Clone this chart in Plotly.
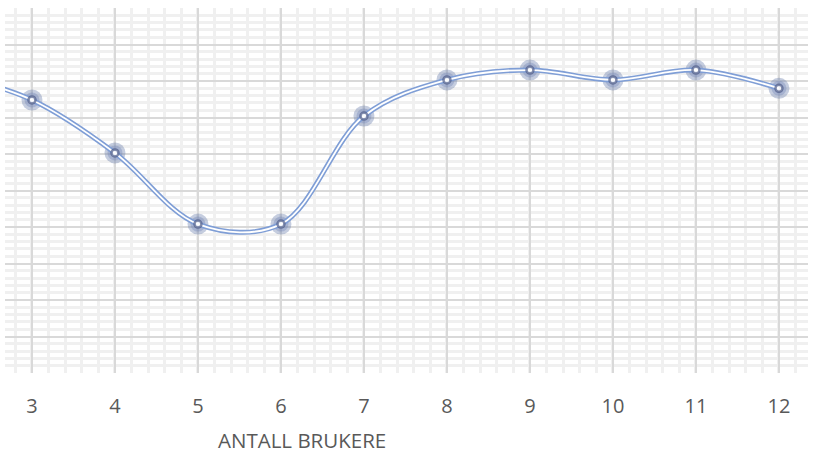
import plotly.graph_objects as go

# data
users = [2, 3, 4, 5, 6, 7, 8, 9, 10, 11, 12]
values = [8.2, 7.48, 6.03, 4.08, 4.08, 7.04, 8.03, 8.3, 8.03, 8.3, 7.8]
tick_vals = [3, 4, 5, 6, 7, 8, 9, 10, 11, 12]
tick_text = [str(v) for v in tick_vals]
x_title = "ANTALL BRUKERE"

blue = "#7f9ed6"
fig = go.Figure()

# marker halo
fig.add_trace(go.Scatter(x=users, y=values, mode="markers",
                         marker=dict(size=21, color="rgba(110,130,175,0.40)", line=dict(width=0)),
                         hoverinfo="skip", showlegend=False))
fig.add_trace(go.Scatter(x=users, y=values, mode="markers",
                         marker=dict(size=15, color="rgba(110,130,180,0.35)", line=dict(width=0)),
                         hoverinfo="skip", showlegend=False))
# double line
fig.add_trace(go.Scatter(x=users, y=values, mode="lines",
                         line=dict(color=blue, width=5, shape="spline", smoothing=1),
                         hoverinfo="skip", showlegend=False))
fig.add_trace(go.Scatter(x=users, y=values, mode="lines",
                         line=dict(color="white", width=1.8, shape="spline", smoothing=1),
                         hoverinfo="skip", showlegend=False))
# inner ring
fig.add_trace(go.Scatter(x=users, y=values, mode="markers",
                         marker=dict(size=7, color="rgba(255,255,255,0.85)",
                                     line=dict(width=2.5, color="rgba(75,90,135,0.7)")),
                         showlegend=False))

fig.update_layout(
    width=815, height=455,
    margin=dict(l=5, r=7, t=8, b=82),
    paper_bgcolor="white", plot_bgcolor="white",
    font=dict(family="Open Sans", color="#595959"),
    xaxis=dict(range=[2.675, 12.35], tickmode="array", tickvals=tick_vals, ticktext=tick_text,
               showgrid=True, gridcolor="#d9d9d9", gridwidth=2, zeroline=False,
               minor=dict(dtick=0.2, tick0=0, showgrid=True, gridcolor="#f0f0f0", gridwidth=3),
               tickfont=dict(size=20, color="#595959"), ticks="", ticklabelstandoff=19,
               showline=False),
    yaxis=dict(range=[0, 10], dtick=1, tick0=0, showgrid=True, gridcolor="#d9d9d9", gridwidth=2,
               zeroline=False, showticklabels=False, ticks="",
               minor=dict(dtick=0.2, tick0=0, showgrid=True, gridcolor="#f0f0f0", gridwidth=3)),
    annotations=[dict(text=x_title, x=(302 - 5) / 803, y=-(440 - 373) / 365,
                      xref="paper", yref="paper", xanchor="center", yanchor="middle",
                      showarrow=False, font=dict(size=20.5, color="#595959"))],
)

fig.write_html("out.html", config={"displayModeBar": False},
               post_script="document.body.style.margin='0';")
